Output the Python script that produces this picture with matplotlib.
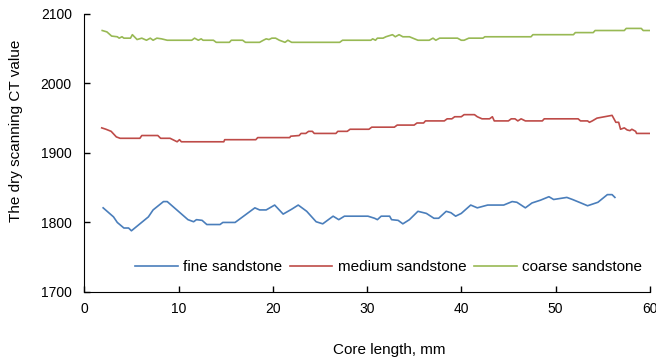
import matplotlib.pyplot as plt

plt.rcParams['font.family'] = ['Liberation Sans', 'DejaVu Sans']

# fine sandstone
fine_x = [2.0, 3.1, 3.5, 4.2, 4.7, 5.0, 6.8, 7.3, 8.4, 8.8, 11.0, 11.6, 11.9, 12.5, 13.0,
          14.4, 14.7, 16.0, 16.7, 18.1, 18.6, 19.3, 20.2, 21.1, 22.0, 22.7, 23.6, 24.6,
          25.3, 26.4, 27.0, 27.6, 30.1, 30.8, 31.1, 31.5, 32.4, 32.6, 33.3, 33.8, 34.5,
          35.4, 36.3, 37.1, 37.6, 38.4, 38.9, 39.4, 40.0, 41.0, 41.7, 42.8, 44.5, 45.4,
          45.9, 46.8, 47.5, 48.4, 49.3, 49.8, 51.2, 51.8, 52.7, 53.4, 54.5, 55.5, 56.0, 56.3]
fine_y = [1821, 1808, 1800, 1792, 1792, 1788, 1808, 1818, 1830, 1830, 1804, 1801, 1804, 1803,
          1797, 1797, 1800, 1800, 1807, 1821, 1818, 1818, 1825, 1812, 1819, 1825, 1816, 1801,
          1798, 1809, 1804, 1809, 1809, 1806, 1804, 1809, 1809, 1804, 1803, 1798, 1804, 1816,
          1813, 1806, 1806, 1816, 1814, 1809, 1813, 1825, 1821, 1825, 1825, 1830, 1829, 1821,
          1828, 1832, 1837, 1833, 1836, 1833, 1828, 1824, 1829, 1840, 1840, 1836]

# medium sandstone
medium_x = [1.85, 2.3, 2.85, 3.4, 3.8, 5.9, 6.1, 7.8, 8.1, 9.1, 9.4, 9.85, 10.1, 10.3, 14.8,
            14.9, 18.2, 18.4, 21.8, 21.9, 22.8, 23.0, 23.5, 23.8, 24.2, 24.4, 26.7, 26.9,
            27.9, 28.2, 30.2, 30.5, 32.9, 33.2, 35.0, 35.3, 36.0, 36.2, 38.2, 38.5, 39.0,
            39.3, 40.0, 40.3, 41.4, 41.7, 42.2, 43.0, 43.3, 43.5, 45.0, 45.3, 45.7, 46.0,
            46.35, 46.8, 48.6, 48.8, 52.4, 52.65, 53.4, 53.6, 53.9, 54.4, 56.0, 56.4, 56.7,
            56.9, 57.3, 57.6, 57.9, 58.1, 58.5, 58.6, 60.0]
medium_y = [1936, 1934, 1931, 1923, 1921, 1921, 1925, 1925, 1921, 1921, 1919, 1916, 1919, 1916,
            1916, 1919, 1919, 1922, 1922, 1924, 1925, 1928, 1928, 1931, 1931, 1928, 1928, 1931,
            1931, 1934, 1934, 1937, 1937, 1940, 1940, 1943, 1943, 1946, 1946, 1949, 1949, 1952,
            1952, 1955, 1955, 1952, 1949, 1949, 1952, 1946, 1946, 1949, 1949, 1946, 1949, 1946,
            1946, 1949, 1949, 1946, 1946, 1944, 1946, 1950, 1954, 1944, 1944, 1934, 1936, 1933,
            1932, 1934, 1931, 1928, 1928]

# coarse sandstone
coarse_x = [1.9, 2.4, 2.9, 3.5, 3.7, 4.0, 4.2, 4.9, 5.1, 5.6, 6.1, 6.6, 7.0, 7.3, 7.7, 8.2,
            8.8, 11.4, 11.7, 12.1, 12.4, 12.6, 13.7, 14.0, 15.4, 15.6, 16.8, 17.1, 18.6, 19.0,
            19.3, 19.6, 19.9, 20.3, 20.7, 21.3, 21.6, 22.0, 27.1, 27.4, 30.4, 30.6, 30.9,
            31.1, 31.7, 32.0, 32.7, 33.0, 33.4, 33.8, 34.5, 35.4, 36.6, 37.0, 37.3, 37.7,
            39.6, 40.0, 40.3, 40.8, 42.3, 42.5, 47.4, 47.6, 51.9, 52.1, 54.0, 54.2, 57.3,
            57.5, 59.1, 59.3, 60.0]
coarse_y = [2076, 2074, 2068, 2067, 2065, 2067, 2065, 2065, 2070, 2063, 2065, 2062, 2065, 2062,
            2065, 2064, 2062, 2062, 2065, 2062, 2064, 2062, 2062, 2059, 2059, 2062, 2062, 2059,
            2059, 2062, 2064, 2063, 2065, 2065, 2062, 2059, 2062, 2059, 2059, 2062, 2062, 2064,
            2062, 2065, 2065, 2067, 2070, 2067, 2070, 2067, 2067, 2062, 2062, 2065, 2062, 2065,
            2065, 2062, 2062, 2065, 2065, 2067, 2067, 2070, 2070, 2073, 2073, 2076, 2076, 2079,
            2079, 2076, 2076]

fig = plt.figure(figsize=(6.56, 3.58), dpi=100)
ax = fig.add_axes([0.1285, 0.1844, 0.862, 0.777])

lw = 1.2
ax.plot(fine_x, fine_y, color='#4A7EBB', lw=lw, label='fine sandstone')
ax.plot(medium_x, medium_y, color='#BE4B48', lw=lw, label='medium sandstone')
ax.plot(coarse_x, coarse_y, color='#98B954', lw=lw, label='coarse sandstone')

ax.set_xlim(0, 60)
ax.set_ylim(1700, 2100)
ax.set_xticks(range(0, 61, 10))
ax.set_yticks(range(1700, 2101, 100))
ax.spines['top'].set_visible(False)
ax.spines['right'].set_visible(False)
ax.tick_params(direction='in', length=4, width=1, labelsize=10)
ax.tick_params(axis='x', pad=7)
ax.tick_params(axis='y', pad=9)
ax.set_xlabel('Core length, mm', fontsize=11, labelpad=20)
ax.set_ylabel('The dry scanning CT value', fontsize=11, labelpad=13)
# axis titles sit off-centre in the original
ax.xaxis.label.set_x(0.539)
ax.yaxis.label.set_y(0.579)

ax.legend(loc='center', bbox_to_anchor=(0.538, 0.09), ncol=3, frameon=False,
          fontsize=11, handlelength=2.8, columnspacing=0.5, handletextpad=0.35,
          borderpad=0.2)

fig.savefig('out.png', dpi=100)
